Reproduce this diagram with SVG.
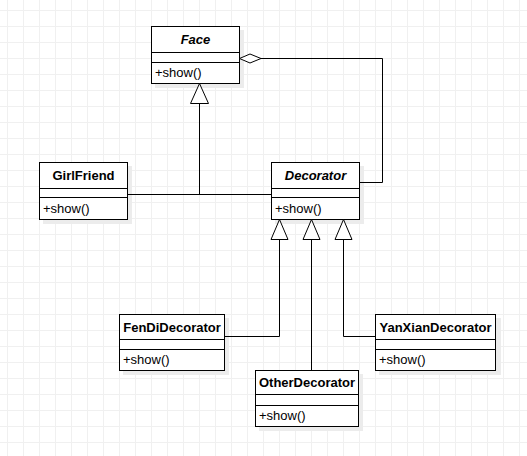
<svg xmlns="http://www.w3.org/2000/svg" width="527" height="456" viewBox="0 0 527 456">
  <defs>
    <pattern id="grid" x="7" y="10" width="16" height="16" patternUnits="userSpaceOnUse">
      <path d="M0.5 0 V16 M0 0.5 H16" fill="none" stroke="#f0f0f0" stroke-width="1"/>
    </pattern>
  </defs>
  <style>
    .box { fill: #ffffff; stroke: #000000; stroke-width: 1; }
    .shadow { fill: #ececec; }
    .sep { stroke: #000000; stroke-width: 1; fill: none; }
    .title { font-family: "Liberation Sans", Arial, sans-serif; font-size: 13px; font-weight: bold; text-anchor: middle; fill: #000; }
    .abs { font-style: italic; }
    .member { font-family: "Liberation Sans", Arial, sans-serif; font-size: 13px; fill: #000; }
    .edge { fill: none; stroke: #000000; stroke-width: 1; }
    .tri { fill: #ffffff; stroke: #000000; stroke-width: 1; }
  </style>
  <rect width="527" height="456" fill="#ffffff"/>
  <rect width="527" height="456" fill="url(#grid)"/>

  <g id="Face">
    <rect class="shadow" x="155" y="30" width="89" height="58"/>
    <rect class="box" x="151.5" y="26.5" width="88" height="57"/>
    <path class="sep" d="M151.5 52.5 H239.5 M151.5 62.5 H239.5"/>
    <text class="title abs" x="195.5" y="44">Face</text>
    <text class="member" x="155" y="77">+show()</text>
  </g>

  <g id="GirlFriend">
    <rect class="shadow" x="43" y="166" width="89" height="58"/>
    <rect class="box" x="39.5" y="162.5" width="88" height="57"/>
    <path class="sep" d="M39.5 188.5 H127.5 M39.5 197.5 H127.5"/>
    <text class="title" x="83.5" y="180">GirlFriend</text>
    <text class="member" x="43" y="213">+show()</text>
  </g>

  <g id="Decorator">
    <rect class="shadow" x="275" y="166" width="89" height="58"/>
    <rect class="box" x="271.5" y="162.5" width="88" height="57"/>
    <path class="sep" d="M271.5 188.5 H359.5 M271.5 197.5 H359.5"/>
    <text class="title abs" x="315.5" y="180">Decorator</text>
    <text class="member" x="275" y="213">+show()</text>
  </g>

  <g id="FenDiDecorator">
    <rect class="shadow" x="123" y="318" width="106" height="57"/>
    <rect class="box" x="119.5" y="314.5" width="105" height="56"/>
    <path class="sep" d="M119.5 339.5 H224.5 M119.5 349.5 H224.5"/>
    <text class="title" x="172" y="332">FenDiDecorator</text>
    <text class="member" x="123" y="364">+show()</text>
  </g>

  <g id="YanXianDecorator">
    <rect class="shadow" x="379" y="318" width="122" height="57"/>
    <rect class="box" x="375.5" y="314.5" width="120" height="56"/>
    <path class="sep" d="M375.5 339.5 H495.5 M375.5 349.5 H495.5"/>
    <text class="title" x="435.5" y="332">YanXianDecorator</text>
    <text class="member" x="379" y="364">+show()</text>
  </g>

  <g id="OtherDecorator">
    <rect class="shadow" x="259" y="374" width="104" height="57"/>
    <rect class="box" x="255.5" y="370.5" width="103" height="56"/>
    <path class="sep" d="M255.5 394.5 H358.5 M255.5 405.5 H358.5"/>
    <text class="title" x="307" y="387">OtherDecorator</text>
    <text class="member" x="259" y="420">+show()</text>
  </g>

  <g id="connectors">
    <path class="edge" d="M127.5 194.5 H271 M199.5 194.5 V103"/>
    <polygon class="tri" points="199.5,83.5 190.5,103.5 208.5,103.5"/>
    <path class="edge" d="M359.5 182.5 H382.5 V58.5 H261"/>
    <polygon class="tri" points="239.5,58.5 250,54 261,58.5 250,63"/>
    <path class="edge" d="M224.5 336.5 H279.5 V239"/>
    <polygon class="tri" points="279.5,219.5 271,239.5 288,239.5"/>
    <path class="edge" d="M311.5 370 V239"/>
    <polygon class="tri" points="311.5,219.5 303,239.5 320,239.5"/>
    <path class="edge" d="M375.5 336.5 H343.5 V239"/>
    <polygon class="tri" points="343.5,219.5 335,239.5 352,239.5"/>
  </g>
</svg>
